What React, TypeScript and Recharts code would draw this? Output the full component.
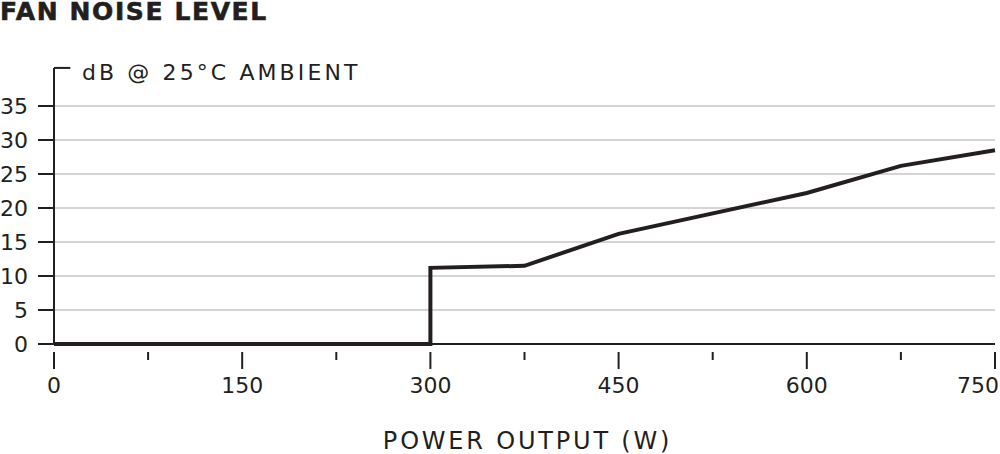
import React from 'react';
import { LineChart, Line, XAxis, YAxis, CartesianGrid, ReferenceLine } from 'recharts';

// fan noise curve
const powerOutput = [0, 300, 300, 375, 450, 600, 675, 750];
const noiseDb = [0, 0, 11.2, 11.5, 16.2, 22.2, 26.2, 28.5];

const xTicks = [0, 75, 150, 225, 300, 375, 450, 525, 600, 675, 750];
const yTicks = [0, 5, 10, 15, 20, 25, 30, 35];

const chartData = powerOutput.map((w, i) => ({ w, db: noiseDb[i] }));

const INK = '#231f20';
const FONT = '"DejaVu Sans", sans-serif';
const AXIS_TOP = 40.6; // y axis line runs a little past the 35 gridline

function PowerTick(props: any) {
  const { x, y, payload } = props;
  const major = payload.value % 150 === 0;
  const last = payload.value === 750;
  return (
    <g>
      <line x1={x} y1={y} x2={x} y2={y + (major ? 17 : 8)} stroke={INK} strokeWidth={2} />
      {major && (
        <text
          x={last ? x + 4 : x}
          y={y + 25}
          dy="0.71em"
          textAnchor={last ? 'end' : 'middle'}
          fill={INK}
          fontSize={22}
          fontFamily={FONT}
        >
          {payload.value}
        </text>
      )}
    </g>
  );
}

export default function App() {
  return (
    <div style={{ position: 'relative', width: 1000, height: 454, background: '#fff' }}>
      <style>{'body { margin: 0; }'}</style>
      <div
        style={{
          position: 'absolute',
          left: 0,
          top: 0,
          fontFamily: FONT,
          fontWeight: 700,
          fontSize: 25,
          lineHeight: '24px',
          color: INK,
          letterSpacing: 1.6,
          whiteSpace: 'nowrap',
          WebkitTextStroke: `0.6px ${INK}`,
        }}
      >
        FAN NOISE LEVEL
      </div>
      <LineChart width={1000} height={454} data={chartData} margin={{ top: 106, right: 5, left: 0, bottom: 0 }}>
        <CartesianGrid vertical={false} stroke="#d4d4d4" strokeWidth={2} />
        <XAxis
          dataKey="w"
          type="number"
          domain={[0, 750]}
          ticks={xTicks}
          height={110}
          stroke={INK}
          strokeWidth={2}
          tickLine={false}
          tick={<PowerTick />}
          interval={0}
          label={{
            content: ({ viewBox }: any) => (
              <text
                x={viewBox.x + viewBox.width / 2 + 3}
                y={viewBox.y + 105}
                textAnchor="middle"
                fill={INK}
                fontSize={24}
                fontFamily={FONT}
                letterSpacing={2.8}
              >
                POWER OUTPUT (W)
              </text>
            ),
          }}
        />
        <YAxis
          type="number"
          domain={[0, 35]}
          ticks={yTicks}
          width={54}
          stroke={INK}
          strokeWidth={2}
          tickSize={16}
          tickMargin={10}
          tick={{ fill: INK, fontSize: 22, fontFamily: FONT }}
          interval={0}
          label={{
            content: ({ viewBox }: any) => (
              <text
                x={viewBox.x + viewBox.width + 28}
                y={viewBox.y - 26}
                fill={INK}
                fontSize={22}
                fontFamily={FONT}
                letterSpacing={3.1}
              >
                dB @ 25°C AMBIENT
              </text>
            ),
          }}
        />
        <ReferenceLine
          segment={[
            { x: 0, y: 35 },
            { x: 0, y: AXIS_TOP },
          ]}
          ifOverflow="visible"
          stroke={INK}
          strokeWidth={2}
        />
        <ReferenceLine
          segment={[
            { x: 0, y: AXIS_TOP },
            { x: 13, y: AXIS_TOP },
          ]}
          ifOverflow="visible"
          stroke={INK}
          strokeWidth={2}
        />
        <Line
          type="linear"
          dataKey="db"
          stroke={INK}
          strokeWidth={4}
          dot={false}
          isAnimationActive={false}
        />
      </LineChart>
    </div>
  );
}
